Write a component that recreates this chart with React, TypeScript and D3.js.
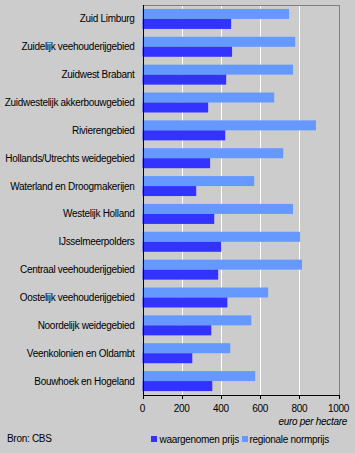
import React from "react";
import * as d3 from "d3";

const categories = [
  "Zuid Limburg",
  "Zuidelijk veehouderijgebied",
  "Zuidwest Brabant",
  "Zuidwestelijk akkerbouwgebied",
  "Rivierengebied",
  "Hollands/Utrechts weidegebied",
  "Waterland en Droogmakerijen",
  "Westelijk Holland",
  "IJsselmeerpolders",
  "Centraal veehouderijgebied",
  "Oostelijk veehouderijgebied",
  "Noordelijk weidegebied",
  "Veenkolonien en Oldambt",
  "Bouwhoek en Hogeland",
];
const waargenomen = [452, 457, 427, 335, 422, 345, 274, 366, 402, 386, 433, 351, 254, 356];
const normprijs = [748, 779, 768, 672, 885, 718, 570, 768, 804, 814, 641, 555, 448, 575];
const xTicks = [0, 200, 400, 600, 800, 1000];
const seriesKeys = ["regionale normprijs", "waargenomen prijs"];

const W = 355;
const H = 453;
const FONT = "'Liberation Sans', Arial, sans-serif";

export default function App() {
  const x = d3.scaleLinear().domain([0, 1000]).range([142.5, 338.5]);
  const y = d3
    .scaleBand<string>()
    .domain(categories)
    .range([5, 395])
    .paddingInner(0.282)
    .paddingOuter(0.141);
  const sub = d3.scaleBand<string>().domain(seriesKeys).range([0, y.bandwidth()]);
  const colors: Record<string, string> = {
    "regionale normprijs": "#6699FF",
    "waargenomen prijs": "#3333FF",
  };
  const left = x(0);
  const right = x(1000);
  const top = 5;
  const bottom = 395;
  const px = (v: number) => Math.round(v) + 0.5;

  return (
    <svg
      width={W}
      height={H}
      style={{ position: "absolute", left: 0, top: 0, display: "block" }}
      fontFamily={FONT}
    >
      <rect x={0} y={0} width={W} height={H} fill="#CCCCCC" />
      {xTicks.slice(1, -1).map((t) => (
        <line key={t} x1={px(x(t))} x2={px(x(t))} y1={top} y2={bottom} stroke="#FFFFFF" strokeWidth={1} />
      ))}
      {categories.map((c, i) => (
        <g key={c} transform={`translate(0,${y(c)})`}>
          <rect x={left} y={sub("regionale normprijs")} width={x(normprijs[i]) - left} height={sub.bandwidth()} fill={colors["regionale normprijs"]} />
          <rect x={left} y={sub("waargenomen prijs")} width={x(waargenomen[i]) - left} height={sub.bandwidth()} fill={colors["waargenomen prijs"]} />
          <text
            x={134.5}
            y={y.bandwidth() / 2}
            dy="0.35em"
            textAnchor="end"
            fontSize={10}
            letterSpacing={-0.3}
            fill="#000"
          >
            {c}
          </text>
        </g>
      ))}
      <line x1={left} x2={px(right)} y1={px(top)} y2={px(top)} stroke="#808080" />
      <line x1={px(right)} x2={px(right)} y1={top} y2={bottom} stroke="#808080" />
      <line x1={px(left)} x2={px(left)} y1={top} y2={bottom} stroke="#000" />
      <line x1={px(left)} x2={px(right)} y1={px(bottom)} y2={px(bottom)} stroke="#000" />
      {xTicks.map((t) => (
        <g key={t}>
          <line x1={px(x(t))} x2={px(x(t))} y1={bottom} y2={bottom + 4} stroke="#000" />
          <text x={x(t)} y={412} textAnchor="middle" fontSize={10} letterSpacing={-0.3} fill="#000">
            {t}
          </text>
        </g>
      ))}
      <text x={347} y={425} textAnchor="end" fontSize={10} fontStyle="italic" letterSpacing={-0.3} fill="#000">
        euro per hectare
      </text>
      <text x={7} y={442} fontSize={10} letterSpacing={-0.3} fill="#000">
        Bron: CBS
      </text>
      <rect x={151} y={436} width={6} height={6} fill={colors["waargenomen prijs"]} />
      <text x={159.5} y={442.5} fontSize={10} letterSpacing={-0.3} fill="#000">
        waargenomen prijs
      </text>
      <rect x={242} y={436} width={6} height={6} fill={colors["regionale normprijs"]} />
      <text x={249.5} y={442.5} fontSize={10} letterSpacing={-0.3} fill="#000">
        regionale normprijs
      </text>
    </svg>
  );
}
